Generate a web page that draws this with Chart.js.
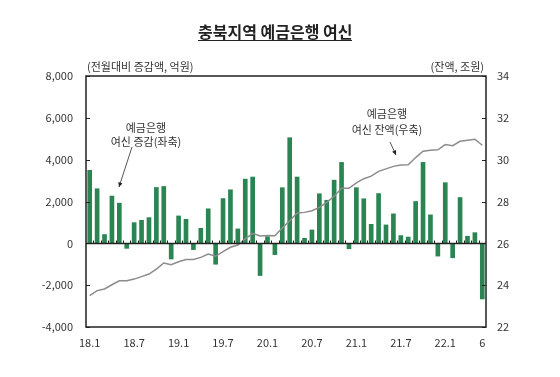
<!DOCTYPE html>
<html>
<head>
<meta charset="utf-8">
<script src="https://cdn.jsdelivr.net/npm/chart.js@4/dist/chart.umd.min.js"></script>
<style>
  body { margin: 0; background: #fff; }
  #wrap { position: relative; width: 560px; height: 377px; font-family: 'Noto Sans CJK KR', 'Noto Sans', sans-serif; color: #333; }
  #wrap canvas { position: absolute; left: 0; top: 0; }
  .txt { position: absolute; font-size: 11px; line-height: 14px; white-space: nowrap; }
  #title { position: absolute; left: 198px; top: 22px; font-size: 16px; font-weight: bold; line-height: 18px; color: #222; border-bottom: 1.5px solid #222; white-space: nowrap; }
</style>
</head>
<body>
<div id="wrap">
  <canvas id="loan-chart" width="560" height="377"></canvas>
  <div id="title">충북지역 예금은행 여신</div>
  <div class="txt" style="left:87px; top:59px;">(전월대비 증감액, 억원)</div>
  <div class="txt" style="right:76px; top:59px;">(잔액, 조원)</div>
  <div class="txt" style="left:96px; top:120px; width:100px; text-align:center;">예금은행<br>여신 증감(좌축)</div>
  <div class="txt" style="left:337px; top:105px; width:100px; text-align:center; line-height:16px;">예금은행<br>여신 잔액(우축)</div>
</div>
<script>
// months 2018.1 ~ 2022.6
const months = [
  '18.1','18.2','18.3','18.4','18.5','18.6','18.7','18.8','18.9','18.10','18.11','18.12',
  '19.1','19.2','19.3','19.4','19.5','19.6','19.7','19.8','19.9','19.10','19.11','19.12',
  '20.1','20.2','20.3','20.4','20.5','20.6','20.7','20.8','20.9','20.10','20.11','20.12',
  '21.1','21.2','21.3','21.4','21.5','21.6','21.7','21.8','21.9','21.10','21.11','21.12',
  '22.1','22.2','22.3','22.4','22.5','22.6'
];
// which months get a tick label, and the text shown
const tickMonths = ['18.1','18.7','19.1','19.7','20.1','20.7','21.1','21.7','22.1','22.6'];
const tickText   = ['18.1','18.7','19.1','19.7','20.1','20.7','21.1','21.7','22.1','6'];

// 여신 증감 (억원, 좌축)
const loanChange = [
  3490, 2610, 420, 2260, 1920, -240, 990, 1100, 1230, 2670, 2720, -750,
  1310, 1150, -300, 720, 1650, -1000, 2140, 2560, 690, 3070, 3170, -1540,
  320, -540, 2660, 5050, 3170, 240, 640, 2370, 2060, 3020, 3870, -260,
  2660, 2130, 910, 2380, 880, 1410, 370, 300, 2000, 3870, 1360, -610,
  2900, -690, 2190, 340, 510, -2660
];
// 여신 잔액 (조원, 우축)
const loanBalance = [
  23.50, 23.74, 23.82, 24.02, 24.21, 24.21, 24.29, 24.41, 24.53, 24.77, 25.06, 24.98,
  25.12, 25.23, 25.23, 25.33, 25.49, 25.38, 25.60, 25.81, 25.92, 26.21, 26.48, 26.35,
  26.38, 26.36, 26.73, 27.08, 27.45, 27.48, 27.56, 27.72, 27.96, 28.25, 28.63, 28.63,
  28.89, 29.09, 29.21, 29.44, 29.56, 29.68, 29.75, 29.76, 30.10, 30.40, 30.45, 30.47,
  30.72, 30.67, 30.88, 30.93, 30.98, 30.69
];

const leftTicks = { min: -4000, max: 8000, step: 2000 };
const rightTicks = { min: 22, max: 34, step: 2 };

Chart.defaults.font.family = "'Noto Sans CJK KR', 'Noto Sans', sans-serif";
Chart.defaults.font.size = 11;
Chart.defaults.color = '#333';

// box, inward ticks, zero line, arrows
const frame = {
  id: 'frame',
  afterDatasetsDraw(chart) {
    const c = chart.ctx, a = chart.chartArea;
    const x = chart.scales.x, y = chart.scales.y, y2 = chart.scales.y2;
    c.save();
    c.strokeStyle = '#222';
    c.lineWidth = 1.5;
    c.strokeRect(a.left, a.top, a.right - a.left, a.bottom - a.top);
    c.lineWidth = 1;
    c.beginPath();
    y.ticks.forEach(t => {
      const py = Math.round(y.getPixelForValue(t.value)) + 0.5;
      c.moveTo(a.left, py); c.lineTo(a.left + 4, py);
    });
    y2.ticks.forEach(t => {
      const py = Math.round(y2.getPixelForValue(t.value)) + 0.5;
      c.moveTo(a.right - 4, py); c.lineTo(a.right, py);
    });
    c.stroke();
    // zero line with month ticks
    const zy = Math.round(y.getPixelForValue(0)) + 0.5;
    c.lineWidth = 1.5;
    c.beginPath();
    c.moveTo(a.left, zy); c.lineTo(a.right, zy);
    c.stroke();
    c.lineWidth = 1;
    c.beginPath();
    const half = (x.getPixelForValue(1) - x.getPixelForValue(0)) / 2;
    for (let i = 1; i < months.length; i++) {
      const px = Math.round(x.getPixelForValue(i) - half) + 0.5;
      c.moveTo(px, zy); c.lineTo(px, zy - 3);
    }
    c.stroke();
    // annotation arrows
    const arrow = (x1, y1, x2, y2) => {
      c.strokeStyle = '#555';
      c.fillStyle = '#222';
      c.lineWidth = 1;
      c.beginPath(); c.moveTo(x1, y1); c.lineTo(x2, y2); c.stroke();
      const ang = Math.atan2(y2 - y1, x2 - x1);
      c.beginPath();
      c.moveTo(x2, y2);
      c.lineTo(x2 - 5 * Math.cos(ang - 0.45), y2 - 5 * Math.sin(ang - 0.45));
      c.lineTo(x2 - 5 * Math.cos(ang + 0.45), y2 - 5 * Math.sin(ang + 0.45));
      c.closePath(); c.fill();
    };
    arrow(132, 147, 119, 187);
    arrow(390, 142, 396, 155);
    c.restore();
  }
};

new Chart(document.getElementById('loan-chart'), {
  type: 'bar',
  data: {
    labels: months,
    datasets: [{
      type: 'line',
      label: '여신 잔액(우축)',
      data: loanBalance,
      yAxisID: 'y2',
      borderColor: '#8c8c8c',
      borderWidth: 1.5,
      pointRadius: 0,
      tension: 0,
      order: 0
    }, {
      label: '여신 증감(좌축)',
      data: loanChange,
      yAxisID: 'y',
      backgroundColor: '#2a8552',
      barThickness: 4,
      order: 1
    }]
  },
  plugins: [frame],
  options: {
    responsive: false,
    animation: false,
    devicePixelRatio: 1,
    layout: { padding: { top: 76, left: 0, right: 0, bottom: 0 } },
    plugins: { legend: { display: false }, tooltip: { enabled: false } },
    scales: {
      x: {
        offset: true,
        grid: { display: false, drawTicks: false },
        border: { display: false },
        ticks: {
          autoSkip: false, maxRotation: 0, minRotation: 0, padding: 9,
          callback: (v, i) => {
            const k = tickMonths.indexOf(months[i]);
            return k >= 0 ? tickText[k] : '';
          }
        },
        afterFit: s => { s.height = 50; }
      },
      y: {
        position: 'left',
        min: leftTicks.min, max: leftTicks.max,
        grid: { display: false, drawTicks: false },
        border: { display: false },
        ticks: { stepSize: leftTicks.step, padding: 13, callback: v => v.toLocaleString('en-US') },
        afterFit: s => { s.width = 86; }
      },
      y2: {
        position: 'right',
        min: rightTicks.min, max: rightTicks.max,
        grid: { display: false, drawTicks: false },
        border: { display: false },
        ticks: { stepSize: rightTicks.step, padding: 11 },
        afterFit: s => { s.width = 74; }
      }
    }
  }
});
</script>
</body>
</html>
